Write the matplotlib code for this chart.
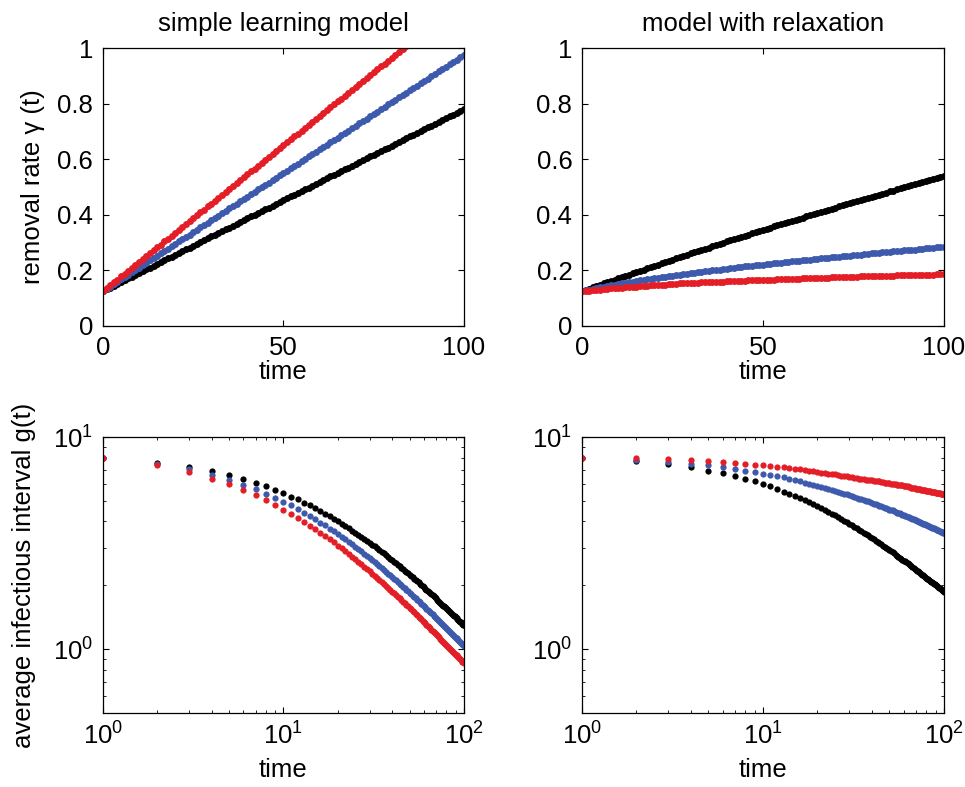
import matplotlib
matplotlib.use('Agg')
import matplotlib.pyplot as plt
import numpy as np
from matplotlib.ticker import NullFormatter, LogLocator

plt.rcParams['font.family'] = ['Liberation Sans', 'DejaVu Sans']
plt.rcParams['mathtext.fontset'] = 'custom'
plt.rcParams['mathtext.rm'] = 'Liberation Sans'
plt.rcParams['mathtext.it'] = 'Liberation Sans:italic'

# ---------------- data ----------------
time = np.arange(0, 101)

# simple learning model, removal rate gamma(t)
simple_black = [0.125, 0.132, 0.138, 0.145, 0.151, 0.158, 0.164, 0.171, 0.177, 0.184,
                0.191, 0.197, 0.204, 0.210, 0.217, 0.223, 0.230, 0.236, 0.243, 0.249,
                0.256, 0.263, 0.269, 0.276, 0.282, 0.289, 0.295, 0.302, 0.308, 0.315,
                0.322, 0.328, 0.335, 0.341, 0.348, 0.354, 0.361, 0.367, 0.374, 0.380,
                0.387, 0.394, 0.400, 0.407, 0.413, 0.420, 0.426, 0.433, 0.439, 0.446,
                0.453, 0.459, 0.466, 0.472, 0.479, 0.485, 0.492, 0.498, 0.505, 0.511,
                0.518, 0.525, 0.531, 0.538, 0.544, 0.551, 0.557, 0.564, 0.570, 0.577,
                0.584, 0.590, 0.597, 0.603, 0.610, 0.616, 0.623, 0.629, 0.636, 0.642,
                0.649, 0.656, 0.662, 0.669, 0.675, 0.682, 0.688, 0.695, 0.701, 0.708,
                0.715, 0.721, 0.728, 0.734, 0.741, 0.747, 0.754, 0.760, 0.767, 0.773,
                0.780]
simple_blue = [0.125, 0.134, 0.142, 0.151, 0.159, 0.168, 0.176, 0.185, 0.193, 0.202,
               0.210, 0.219, 0.227, 0.236, 0.244, 0.253, 0.261, 0.270, 0.278, 0.287,
               0.295, 0.304, 0.312, 0.321, 0.329, 0.338, 0.346, 0.355, 0.363, 0.372,
               0.380, 0.389, 0.397, 0.406, 0.414, 0.423, 0.431, 0.440, 0.448, 0.457,
               0.465, 0.474, 0.482, 0.491, 0.499, 0.508, 0.516, 0.525, 0.533, 0.542,
               0.550, 0.559, 0.567, 0.576, 0.584, 0.593, 0.601, 0.610, 0.618, 0.627,
               0.635, 0.644, 0.652, 0.661, 0.669, 0.678, 0.686, 0.695, 0.703, 0.712,
               0.720, 0.729, 0.737, 0.746, 0.754, 0.763, 0.771, 0.780, 0.788, 0.797,
               0.805, 0.814, 0.822, 0.831, 0.839, 0.848, 0.856, 0.865, 0.873, 0.882,
               0.890, 0.899, 0.907, 0.916, 0.924, 0.933, 0.941, 0.950, 0.958, 0.967,
               0.975]
simple_red = [0.125, 0.136, 0.146, 0.157, 0.167, 0.178, 0.188, 0.199, 0.209, 0.220,
              0.230, 0.241, 0.251, 0.262, 0.272, 0.283, 0.293, 0.304, 0.314, 0.325,
              0.335, 0.346, 0.356, 0.367, 0.377, 0.388, 0.398, 0.409, 0.419, 0.430,
              0.440, 0.451, 0.461, 0.472, 0.482, 0.493, 0.503, 0.514, 0.524, 0.535,
              0.545, 0.556, 0.566, 0.577, 0.587, 0.598, 0.608, 0.619, 0.629, 0.640,
              0.650, 0.661, 0.671, 0.682, 0.692, 0.703, 0.713, 0.724, 0.734, 0.745,
              0.755, 0.766, 0.776, 0.787, 0.797, 0.808, 0.818, 0.829, 0.839, 0.850,
              0.860, 0.871, 0.881, 0.892, 0.902, 0.913, 0.923, 0.934, 0.944, 0.955,
              0.965, 0.976, 0.986, 0.997, 1.007, 1.018, 1.028, 1.039, 1.049, 1.060,
              1.070, 1.081, 1.091, 1.102, 1.112, 1.123, 1.133, 1.144, 1.154, 1.165,
              1.175]

# model with relaxation, removal rate gamma(t)
relax_black = [0.125, 0.130, 0.134, 0.139, 0.144, 0.148, 0.153, 0.158, 0.162, 0.167,
               0.171, 0.176, 0.181, 0.185, 0.190, 0.194, 0.199, 0.203, 0.208, 0.212,
               0.217, 0.221, 0.225, 0.230, 0.234, 0.239, 0.243, 0.248, 0.252, 0.256,
               0.261, 0.265, 0.269, 0.274, 0.278, 0.282, 0.287, 0.291, 0.295, 0.299,
               0.304, 0.308, 0.312, 0.316, 0.320, 0.325, 0.329, 0.333, 0.337, 0.341,
               0.345, 0.350, 0.354, 0.358, 0.362, 0.366, 0.370, 0.374, 0.378, 0.382,
               0.386, 0.390, 0.394, 0.398, 0.402, 0.406, 0.410, 0.414, 0.418, 0.422,
               0.426, 0.430, 0.434, 0.438, 0.441, 0.445, 0.449, 0.453, 0.457, 0.461,
               0.465, 0.468, 0.472, 0.476, 0.480, 0.484, 0.487, 0.491, 0.495, 0.499,
               0.502, 0.506, 0.510, 0.513, 0.517, 0.521, 0.524, 0.528, 0.532, 0.535,
               0.539]
relax_blue = [0.125, 0.128, 0.131, 0.134, 0.136, 0.139, 0.141, 0.144, 0.146, 0.149,
              0.151, 0.153, 0.155, 0.158, 0.160, 0.162, 0.164, 0.166, 0.168, 0.170,
              0.172, 0.174, 0.176, 0.177, 0.179, 0.181, 0.183, 0.185, 0.186, 0.188,
              0.190, 0.192, 0.193, 0.195, 0.196, 0.198, 0.200, 0.201, 0.203, 0.204,
              0.206, 0.208, 0.209, 0.211, 0.212, 0.214, 0.215, 0.217, 0.218, 0.220,
              0.221, 0.222, 0.224, 0.225, 0.227, 0.228, 0.229, 0.231, 0.232, 0.234,
              0.235, 0.236, 0.238, 0.239, 0.240, 0.242, 0.243, 0.244, 0.245, 0.247,
              0.248, 0.249, 0.251, 0.252, 0.253, 0.255, 0.256, 0.257, 0.258, 0.260,
              0.261, 0.262, 0.263, 0.265, 0.266, 0.267, 0.268, 0.269, 0.271, 0.272,
              0.273, 0.274, 0.275, 0.277, 0.278, 0.279, 0.280, 0.281, 0.283, 0.284,
              0.285]
relax_red = [0.125, 0.126, 0.127, 0.129, 0.130, 0.131, 0.132, 0.134, 0.135, 0.136,
             0.137, 0.138, 0.139, 0.140, 0.141, 0.142, 0.143, 0.144, 0.145, 0.146,
             0.147, 0.148, 0.149, 0.149, 0.150, 0.151, 0.152, 0.153, 0.153, 0.154,
             0.155, 0.156, 0.156, 0.157, 0.157, 0.158, 0.159, 0.159, 0.160, 0.160,
             0.161, 0.161, 0.162, 0.162, 0.163, 0.163, 0.164, 0.164, 0.165, 0.165,
             0.166, 0.166, 0.167, 0.167, 0.168, 0.168, 0.168, 0.169, 0.169, 0.170,
             0.170, 0.171, 0.171, 0.172, 0.172, 0.173, 0.173, 0.174, 0.174, 0.175,
             0.175, 0.175, 0.176, 0.176, 0.177, 0.177, 0.177, 0.178, 0.178, 0.179,
             0.179, 0.179, 0.180, 0.180, 0.181, 0.181, 0.181, 0.182, 0.182, 0.183,
             0.183, 0.183, 0.184, 0.184, 0.184, 0.185, 0.185, 0.185, 0.186, 0.186,
             0.186]

colors = ['black', '#3d5aad', '#e41e26']
FS = 18.5


def style_axes(ax):
    # matlab-like box with inward ticks on all four sides
    ax.tick_params(which='both', direction='in', top=True, right=True,
                   labelsize=FS, pad=7)
    ax.tick_params(which='major', length=4, width=0.8)
    ax.tick_params(which='minor', length=2.5, width=0.6)
    for s in ax.spines.values():
        s.set_linewidth(0.9)


def top_panel(ax, series, title):
    for y, c in zip(series, colors):
        ax.plot(time, y, 'o', color=c, ms=5.0, mew=0)
    ax.set_xlim(0, 100)
    ax.set_ylim(0, 1)
    ax.set_xticks([0, 50, 100])
    ax.set_yticks([0, 0.2, 0.4, 0.6, 0.8, 1])
    ax.set_yticklabels(['0', '0.2', '0.4', '0.6', '0.8', '1'])
    ax.set_xlabel('time', fontsize=FS, labelpad=0)
    ax.set_title(title, fontsize=FS, pad=12)
    style_axes(ax)


def bottom_panel(ax, series):
    # g(t) is the reciprocal of the removal rate one step earlier
    for y, c in zip(series, colors):
        g = 1.0 / np.asarray(y[:-1])
        ax.plot(time[1:], g, 'o', color=c, ms=4.5, mew=0)
    ax.set_xscale('log')
    ax.set_yscale('log')
    ax.set_xlim(1, 100)
    ax.set_ylim(0.5, 10)
    ax.set_xticks([1, 10, 100])
    ax.set_xticklabels([r'$10^0$', r'$10^1$', r'$10^2$'])
    ax.set_yticks([1, 10])
    ax.set_yticklabels([r'$10^0$', r'$10^1$'])
    ax.xaxis.set_minor_locator(LogLocator(base=10, subs=np.arange(2, 10)))
    ax.yaxis.set_minor_locator(LogLocator(base=10, subs=np.arange(2, 10)))
    ax.xaxis.set_minor_formatter(NullFormatter())
    ax.yaxis.set_minor_formatter(NullFormatter())
    ax.set_xlabel('time', fontsize=FS, labelpad=6)
    style_axes(ax)


def main():
    fig = plt.figure(figsize=(9.65, 7.87), dpi=100)

    ax_tl = fig.add_axes([0.1067, 0.5858, 0.3741, 0.3532])
    ax_tr = fig.add_axes([0.6031, 0.5858, 0.3751, 0.3532])
    ax_bl = fig.add_axes([0.1067, 0.0940, 0.3741, 0.3507])
    ax_br = fig.add_axes([0.6031, 0.0940, 0.3751, 0.3507])

    top_panel(ax_tl, [simple_black, simple_blue, simple_red], 'simple learning model')
    top_panel(ax_tr, [relax_black, relax_blue, relax_red], 'model with relaxation')
    ax_tl.set_ylabel('removal rate \u03b3 (t)', fontsize=FS, labelpad=9)

    bottom_panel(ax_bl, [simple_black, simple_blue, simple_red])
    bottom_panel(ax_br, [relax_black, relax_blue, relax_red])
    ax_bl.set_ylabel('average infectious interval g(t)', fontsize=FS, labelpad=12)

    fig.savefig('out.png', dpi=100)


if __name__ == '__main__':
    main()
